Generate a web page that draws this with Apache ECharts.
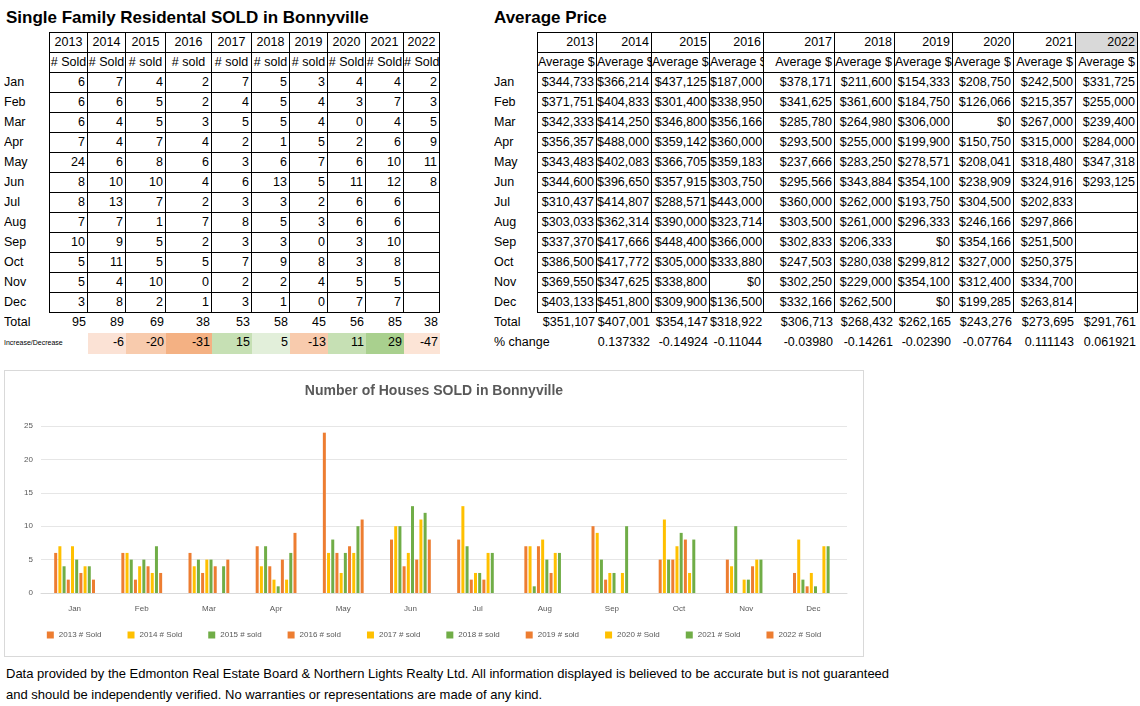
<!DOCTYPE html>
<html>
<head>
<meta charset="utf-8">
<script src="https://cdn.jsdelivr.net/npm/echarts@6/dist/echarts.min.js"></script>
<style>
  body { margin: 0; background: #fff; font-family: "Liberation Sans", Arial, sans-serif; }
  #page { position: relative; width: 1140px; height: 706px; overflow: hidden; }
  .c { position: absolute; font-size: 12.5px; line-height: 19px; height: 21px; box-sizing: border-box; white-space: nowrap; overflow: hidden; color: #000; }
  .b { border: 1px solid #000; margin-left: -1px; margin-top: -1px; }
  .r { text-align: right; padding-right: 2px; }
  .m { text-align: center; }
  .t { position: absolute; font-size: 17px; font-weight: bold; }
  #chart { position: absolute; left: 4px; top: 370px; width: 858px; height: 285px; border: 1px solid #d9d9d9; }
  .foot { position: absolute; left: 6px; font-size: 13px; }
</style>
</head>
<body>
<div id="page">
  <div class="t" style="left:6px;top:8px">Single Family Residental SOLD in Bonnyville</div>
  <div class="t" style="left:494px;top:8px">Average Price</div>
  <div id="chart"></div>
  <div class="foot" style="top:666px">Data provided by the Edmonton Real Estate Board &amp; Northern Lights Realty Ltd. All information displayed is believed to be accurate but is not guaranteed</div>
  <div class="foot" style="top:687px">and should be independently verified. No warranties or representations are made of any kind.</div>
</div>
<script>
var years = ['2013', '2014', '2015', '2016', '2017', '2018', '2019', '2020', '2021', '2022']
var months = ['Jan', 'Feb', 'Mar', 'Apr', 'May', 'Jun', 'Jul', 'Aug', 'Sep', 'Oct', 'Nov', 'Dec']
var soldHeaders = ['# Sold', '# Sold', '# sold', '# sold', '# sold', '# sold', '# sold', '# Sold', '# Sold', '# Sold']
var legendNames = ['2013 # Sold', '2014 # Sold', '2015 # sold', '2016 # sold', '2017 # sold', '2018 # sold', '2019 # sold', '2020 # Sold', '2021 # Sold', '2022 # Sold']
// sold per month, one row per month, one column per year
var sold = [
  [6, 7, 4, 2, 7, 5, 3, 4, 4, 2],
  [6, 6, 5, 2, 4, 5, 4, 3, 7, 3],
  [6, 4, 5, 3, 5, 5, 4, 0, 4, 5],
  [7, 4, 7, 4, 2, 1, 5, 2, 6, 9],
  [24, 6, 8, 6, 3, 6, 7, 6, 10, 11],
  [8, 10, 10, 4, 6, 13, 5, 11, 12, 8],
  [8, 13, 7, 2, 3, 3, 2, 6, 6, null],
  [7, 7, 1, 7, 8, 5, 3, 6, 6, null],
  [10, 9, 5, 2, 3, 3, 0, 3, 10, null],
  [5, 11, 5, 5, 7, 9, 8, 3, 8, null],
  [5, 4, 10, 0, 2, 2, 4, 5, 5, null],
  [3, 8, 2, 1, 3, 1, 0, 7, 7, null]
]
var soldTotal = [95, 89, 69, 38, 53, 58, 45, 56, 85, 38]
var soldChange = [null, -6, -20, -31, 15, 5, -13, 11, 29, -47]
var changeColors = [null, '#FBE2D5', '#F8CBAD', '#F4B183', '#C6E0B4', '#E2EFDA', '#F8CBAD', '#C6E0B4', '#A9D08E', '#FCE4D6']
var prices = [
  ['$344,733', '$366,214', '$437,125', '$187,000', '$378,171', '$211,600', '$154,333', '$208,750', '$242,500', '$331,725'],
  ['$371,751', '$404,833', '$301,400', '$338,950', '$341,625', '$361,600', '$184,750', '$126,066', '$215,357', '$255,000'],
  ['$342,333', '$414,250', '$346,800', '$356,166', '$285,780', '$264,980', '$306,000', '$0', '$267,000', '$239,400'],
  ['$356,357', '$488,000', '$359,142', '$360,000', '$293,500', '$255,000', '$199,900', '$150,750', '$315,000', '$284,000'],
  ['$343,483', '$402,083', '$366,705', '$359,183', '$237,666', '$283,250', '$278,571', '$208,041', '$318,480', '$347,318'],
  ['$344,600', '$396,650', '$357,915', '$303,750', '$295,566', '$343,884', '$354,100', '$238,909', '$324,916', '$293,125'],
  ['$310,437', '$414,807', '$288,571', '$443,000', '$360,000', '$262,000', '$193,750', '$304,500', '$202,833', ''],
  ['$303,033', '$362,314', '$390,000', '$323,714', '$303,500', '$261,000', '$296,333', '$246,166', '$297,866', ''],
  ['$337,370', '$417,666', '$448,400', '$366,000', '$302,833', '$206,333', '$0', '$354,166', '$251,500', ''],
  ['$386,500', '$417,772', '$305,000', '$333,880', '$247,503', '$280,038', '$299,812', '$327,000', '$250,375', ''],
  ['$369,550', '$347,625', '$338,800', '$0', '$302,250', '$229,000', '$354,100', '$312,400', '$334,700', ''],
  ['$403,133', '$451,800', '$309,900', '$136,500', '$332,166', '$262,500', '$0', '$199,285', '$263,814', '']
]
var priceTotal = ['$351,107', '$407,001', '$354,147', '$318,922', '$306,713', '$268,432', '$262,165', '$243,276', '$273,695', '$291,761']
var priceChange = ['', '0.137332', '-0.14924', '-0.11044', '-0.03980', '-0.14261', '-0.02390', '-0.07764', '0.111143', '0.061921']
var colors = ['#ED7D31', '#FFC000', '#70AD47']

var page = document.getElementById('page')
function cell(x, y, w, text, cls, bg) {
  var d = document.createElement('div')
  d.className = 'c ' + (cls || '')
  d.style.left = x + 'px'; d.style.top = y + 'px'; d.style.width = w + 'px'
  if (bg) d.style.background = bg
  d.textContent = text
  page.appendChild(d)
}

var rowY = function (i) { return 33 + i * 20 }
// left table
var lx = [50, 88, 126, 166, 212, 252, 290, 328, 366, 404, 440]
years.forEach(function (y, j) {
  var w = lx[j + 1] - lx[j] + 1
  cell(lx[j], rowY(0), w, y, 'b m', '')
  cell(lx[j], rowY(1), w, soldHeaders[j], 'b m', '')
})
months.forEach(function (m, i) {
  cell(4, rowY(i + 2), 46, m, '')
  sold[i].forEach(function (v, j) {
    cell(lx[j], rowY(i + 2), lx[j + 1] - lx[j] + 1, v == null ? '' : v, 'b r')
  })
})
cell(4, rowY(14), 46, 'Total', '')
soldTotal.forEach(function (v, j) { cell(lx[j], rowY(14), lx[j + 1] - lx[j], v, 'r') })
var inc = document.createElement('div')
inc.className = 'c'; inc.style.left = '4px'; inc.style.top = rowY(15) + 'px'; inc.style.fontSize = '7px'; inc.textContent = 'Increase/Decrease'
page.appendChild(inc)
soldChange.forEach(function (v, j) {
  if (v != null) cell(lx[j], rowY(15), lx[j + 1] - lx[j], v, 'r', changeColors[j])
})
// right table
var rx = [538, 597, 652, 710, 764, 835, 895, 953, 1014, 1076, 1138]
years.forEach(function (y, j) {
  var w = rx[j + 1] - rx[j] + 1
  cell(rx[j], rowY(0), w, y, 'b r', j == 9 ? '#d9d9d9' : '')
  cell(rx[j], rowY(1), w, 'Average $', 'b r', '')
})
months.forEach(function (m, i) {
  cell(494, rowY(i + 2), 44, m, '')
  prices[i].forEach(function (v, j) { cell(rx[j], rowY(i + 2), rx[j + 1] - rx[j] + 1, v, 'b r') })
})
cell(494, rowY(14), 44, 'Total', '')
priceTotal.forEach(function (v, j) { cell(rx[j], rowY(14), rx[j + 1] - rx[j], v, 'r') })
cell(494, rowY(15), 100, '% change', '')
priceChange.forEach(function (v, j) { if (v) cell(rx[j], rowY(15), rx[j + 1] - rx[j], v, 'r') })

// chart
var chart = echarts.init(document.getElementById('chart'))
var series = years.map(function (y, j) {
  return {
    name: legendNames[j],
    type: 'bar',
    data: sold.map(function (row) { return row[j] }),
    itemStyle: { color: colors[j % 3] },
    barWidth: 3,
    barGap: '40%'
  }
})
chart.setOption({
  animation: false,
  title: {
    text: 'Number of Houses SOLD in Bonnyville',
    left: 'center', top: 8,
    textStyle: { color: '#595959', fontSize: 14, fontWeight: 'bold', fontFamily: 'Liberation Sans' }
  },
  grid: { left: 36, right: 16, top: 55, bottom: 63 },
  legend: {
    bottom: 12, left: 'center', width: 830, itemWidth: 7, itemHeight: 7, itemGap: 26, icon: 'rect',
    textStyle: { fontSize: 8, color: '#595959' }
  },
  xAxis: {
    type: 'category', data: months,
    axisTick: { show: false },
    axisLine: { lineStyle: { color: '#d9d9d9' } },
    axisLabel: { fontSize: 8, color: '#595959', margin: 12 }
  },
  yAxis: {
    type: 'value', min: 0, max: 25, interval: 5,
    axisLabel: { fontSize: 8, color: '#595959' },
    splitLine: { lineStyle: { color: '#e6e6e6' } }
  },
  series: series
})
</script>
</body>
</html>
